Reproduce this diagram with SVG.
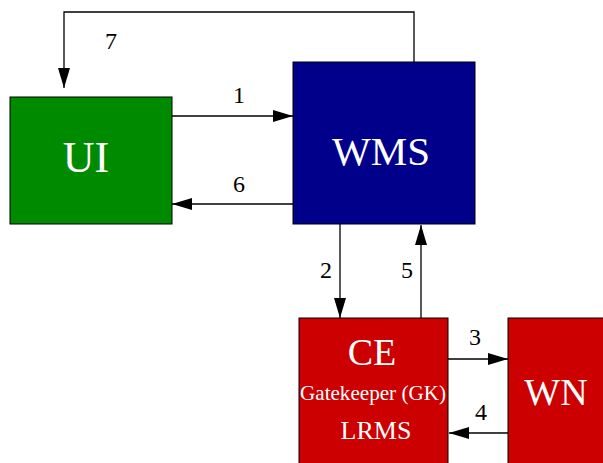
<svg xmlns="http://www.w3.org/2000/svg" width="603" height="463" viewBox="0 0 603 463">
<style>
.box{stroke:#000;stroke-width:1}
.t{font-family:"Liberation Serif",serif;fill:#fff;text-anchor:middle}
.n{font-family:"Liberation Serif",serif;fill:#000;font-size:24px;text-anchor:middle}
.c{fill:none;stroke:#000;stroke-width:1.3}
</style>
<defs>
<marker id="ah" markerUnits="userSpaceOnUse" markerWidth="20" markerHeight="12" refX="20" refY="6" orient="auto">
<path d="M0,0 L20,6 L0,12 Z" fill="#000"/>
</marker>
</defs>
<rect width="603" height="463" fill="#fff"/>
<g id="connectors">
<path class="c" d="M414,62 V12 H64 V88" marker-end="url(#ah)"/>
<line class="c" x1="172" y1="116" x2="293" y2="116" marker-end="url(#ah)"/>
<line class="c" x1="293" y1="204" x2="172" y2="204" marker-end="url(#ah)"/>
<line class="c" x1="340" y1="224" x2="340" y2="318" marker-end="url(#ah)"/>
<line class="c" x1="421" y1="318" x2="421" y2="225" marker-end="url(#ah)"/>
<line class="c" x1="448" y1="359" x2="508" y2="359" marker-end="url(#ah)"/>
<line class="c" x1="508" y1="433" x2="449" y2="433" marker-end="url(#ah)"/>
<text class="n" x="111" y="49">7</text>
<text class="n" x="239" y="103">1</text>
<text class="n" x="239" y="192">6</text>
<text class="n" x="326" y="278">2</text>
<text class="n" x="407" y="278">5</text>
<text class="n" x="475" y="345">3</text>
<text class="n" x="481" y="420">4</text>
</g>
<g id="UI">
<rect class="box" x="10" y="97" width="162" height="127" fill="#008a00"/>
<text class="t" x="86" y="172" font-size="44">UI</text>
</g>
<g id="WMS">
<rect class="box" x="293" y="62" width="182" height="162" fill="#00008b"/>
<text class="t" x="381" y="165" font-size="41">WMS</text>
</g>
<g id="CE">
<rect class="box" x="299" y="318" width="149" height="150" fill="#cc0000"/>
<text class="t" x="372" y="365" font-size="38">CE</text>
<text class="t" x="373" y="400" font-size="21" textLength="146" lengthAdjust="spacingAndGlyphs">Gatekeeper (GK)</text>
<text class="t" x="376" y="439" font-size="26">LRMS</text>
</g>
<g id="WN">
<rect class="box" x="508" y="318" width="100" height="150" fill="#cc0000"/>
<text class="t" x="556" y="405" font-size="38">WN</text>
</g>
</svg>
